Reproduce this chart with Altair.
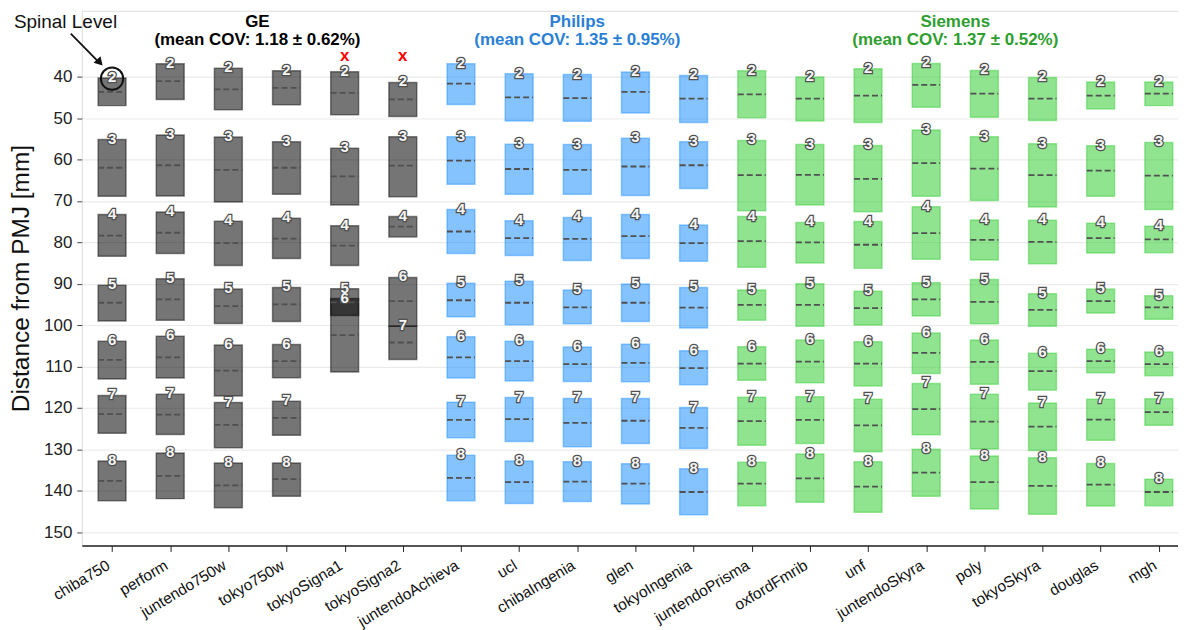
import altair as alt
import pandas as pd

sites = ["chiba750", "perform", "juntendo750w", "tokyo750w", "tokyoSigna1", "tokyoSigna2",
         "juntendoAchieva", "ucl", "chibaIngenia", "glen", "tokyoIngenia",
         "juntendoPrisma", "oxfordFmrib", "unf", "juntendoSkyra", "poly", "tokyoSkyra", "douglas", "mgh"]
vendors = ["GE"] * 6 + ["Philips"] * 5 + ["Siemens"] * 8
levels = [2, 3, 4, 5, 6, 7, 8]

# per-site, per-level: top (start), median, bottom (end) in mm from PMJ
level_top = [
    [40.3, 55.2, 73.3, 90.4, 103.9, 117.0, 132.8],
    [36.9, 54.1, 72.7, 88.8, 102.7, 116.7, 130.9],
    [38.0, 54.6, 74.9, 91.3, 104.8, 118.7, 133.3],
    [38.6, 55.7, 74.2, 90.9, 104.7, 118.4, 133.3],
    [38.8, 57.3, 76.0, 91.2, 93.6, None, None],
    [41.4, 54.5, 73.8, None, 88.5, 100.3, None],
    [36.9, 54.5, 72.1, 89.9, 102.8, 118.6, 131.4],
    [39.3, 56.3, 74.8, 89.4, 103.9, 117.5, 132.8],
    [39.5, 56.4, 74.0, 91.5, 105.3, 117.7, 133.0],
    [38.9, 54.9, 73.3, 90.1, 104.6, 117.7, 133.5],
    [39.7, 55.7, 75.8, 90.9, 106.2, 119.9, 134.7],
    [38.6, 55.4, 73.8, 91.5, 105.2, 117.4, 133.1],
    [40.1, 56.4, 75.2, 90.0, 103.6, 117.3, 131.1],
    [38.1, 56.6, 75.0, 91.8, 104.0, 117.9, 133.0],
    [36.8, 52.9, 71.4, 89.8, 101.9, 114.1, 130.0],
    [38.5, 54.5, 74.6, 89.0, 103.6, 116.7, 131.6],
    [40.2, 56.2, 74.7, 92.4, 106.8, 118.8, 132.0],
    [41.3, 56.7, 75.4, 91.3, 105.8, 117.9, 133.4],
    [41.3, 55.9, 76.1, 92.9, 106.5, 117.8, 137.2],
]
level_mid = [
    [43.7, 62.0, 78.4, 94.6, 108.4, 121.5, 137.6],
    [41.1, 61.4, 77.7, 93.8, 107.8, 121.6, 136.4],
    [43.1, 62.5, 80.2, 95.4, 111.0, 124.1, 138.7],
    [42.7, 62.0, 79.1, 95.0, 108.7, 122.4, 137.2],
    [43.9, 64.1, 80.8, 94.5, 102.4, None, None],
    [45.5, 61.5, 76.2, None, 94.2, 104.2, None],
    [41.7, 60.3, 77.4, 94.0, 107.8, 122.9, 136.9],
    [45.0, 62.3, 79.0, 94.6, 108.7, 122.7, 137.9],
    [45.2, 62.5, 79.2, 95.7, 109.4, 123.6, 137.8],
    [43.7, 61.7, 78.5, 94.6, 109.1, 123.1, 138.3],
    [45.3, 61.4, 80.2, 95.8, 110.4, 124.8, 140.3],
    [44.3, 63.8, 79.7, 95.1, 109.3, 123.2, 138.3],
    [45.3, 63.7, 80.0, 95.1, 108.8, 122.9, 137.0],
    [44.6, 64.7, 80.6, 95.9, 109.3, 124.2, 139.0],
    [42.0, 60.9, 77.8, 93.8, 106.7, 120.3, 135.6],
    [44.1, 62.2, 79.4, 94.4, 108.9, 123.3, 137.9],
    [45.3, 63.8, 79.9, 96.3, 111.1, 124.5, 138.8],
    [44.6, 62.7, 79.0, 94.2, 108.7, 122.8, 138.5],
    [44.1, 63.9, 79.3, 95.7, 109.4, 121.0, 140.3],
]
level_bot = [
    [47.0, 68.9, 83.4, 99.0, 113.0, 126.1, 142.4],
    [45.5, 68.8, 82.7, 98.8, 112.8, 126.4, 141.9],
    [48.0, 70.3, 85.6, 99.6, 117.1, 129.6, 144.1],
    [46.8, 68.4, 83.9, 99.1, 112.7, 126.6, 141.3],
    [49.2, 71.0, 85.6, 97.7, 111.3, None, None],
    [49.6, 69.0, 78.7, None, 100.3, 108.3, None],
    [46.7, 66.0, 82.7, 98.0, 112.8, 127.2, 142.4],
    [50.7, 68.4, 83.2, 99.9, 113.5, 128.1, 143.1],
    [50.8, 68.4, 84.4, 99.7, 113.6, 129.4, 142.6],
    [48.8, 68.7, 83.9, 99.1, 113.7, 128.6, 143.2],
    [51.1, 67.0, 84.6, 100.7, 114.4, 129.8, 145.8],
    [49.9, 72.4, 86.0, 98.8, 113.3, 129.0, 143.6],
    [50.7, 71.0, 85.0, 100.3, 113.9, 128.6, 142.8],
    [51.1, 72.6, 86.3, 100.0, 114.7, 130.6, 145.2],
    [47.4, 68.9, 84.1, 97.8, 111.7, 126.5, 141.3],
    [49.8, 69.9, 84.3, 99.7, 114.3, 129.9, 144.4],
    [50.6, 71.5, 85.2, 100.3, 115.7, 130.3, 145.7],
    [47.8, 68.9, 82.6, 97.1, 111.5, 127.8, 143.7],
    [47.0, 72.1, 82.5, 98.6, 112.2, 124.2, 143.6],
]

vendor_names = ["GE", "Philips", "Siemens"]
vendor_fill = ["#000000", "#1e90ff", "#32cd32"]
vendor_title_color = ["#000000", "#2a7fd5", "#2e9e2e"]
vendor_titles = [["GE", "(mean COV: 1.18 ± 0.62%)"],
                 ["Philips", "(mean COV: 1.35 ± 0.95%)"],
                 ["Siemens", "(mean COV: 1.37 ± 0.52%)"]]
vendor_center = [2.5, 8.0, 14.5]
title_y = 26.9

flagged_sites = [4, 5]
flag_y = 35.0

rows = []
for i, s in enumerate(sites):
    for j, lv in enumerate(levels):
        if level_top[i][j] is None:
            continue
        rows.append(dict(idx=i, site=s, vendor=vendors[i], level=str(lv),
                         top=level_top[i][j], mid=level_mid[i][j], bot=level_bot[i][j]))
df = pd.DataFrame(rows)

x_dom = [-0.52, 18.33]
y_dom = [24.1, 153.2]
names_expr = "[" + ",".join("'%s'" % s for s in sites) + "][datum.value]"

xscale = alt.Scale(domain=x_dom, nice=False, zero=False)
yscale = alt.Scale(domain=y_dom, reverse=True, nice=False, zero=False)
vscale = alt.Scale(domain=vendor_names, range=vendor_fill)

base = alt.Chart(df).transform_calculate(
    x0="datum.idx - 0.24", x1="datum.idx + 0.24"
)

boxes = base.mark_rect(fillOpacity=0.54, strokeOpacity=0.45, strokeWidth=1.5).encode(
    x=alt.X("x0:Q", scale=xscale,
            axis=alt.Axis(values=list(range(len(sites))), labelExpr=names_expr, title=None,
                          grid=False, labelAngle=329, labelAlign="right", labelBaseline="bottom",
                          labelFontSize=15.5, labelColor="#111", labelPadding=19,
                          tickColor="#222", tickSize=6, domainColor="#222", domainWidth=1.5,
                          labelOverlap=False, labelBound=False, labelFlush=False)),
    x2="x1:Q",
    y=alt.Y("top:Q", scale=yscale,
            axis=alt.Axis(values=list(range(40, 151, 10)), title="Distance from PMJ [mm]",
                          titleFontSize=24.5, titleFontWeight="normal", titleColor="#111",
                          titlePadding=10, labelFontSize=17, labelColor="#222", labelPadding=5,
                          tickColor="#444", tickSize=5, domain=False, grid=True,
                          gridColor="#ebebeb", gridWidth=1.2)),
    y2="bot:Q",
    fill=alt.Fill("vendor:N", scale=vscale, legend=None),
    stroke=alt.Stroke("vendor:N", scale=vscale, legend=None),
)

medians = base.mark_rule(color="#505050", strokeWidth=1.8, strokeDash=[6, 3]).encode(
    x=alt.X("x0:Q", scale=xscale), x2="x1:Q", y=alt.Y("mid:Q", scale=yscale)
)

lab_outline = base.mark_text(fontSize=15, fontWeight="bold", baseline="middle", dy=-1,
                             fill="white", stroke="#505050", strokeWidth=2.5,
                             font="Liberation Sans").encode(
    x=alt.X("idx:Q", scale=xscale), y=alt.Y("top:Q", scale=yscale), text="level:N"
)
lab_fill = base.mark_text(fontSize=15, fontWeight="bold", baseline="middle", dy=-1,
                          fill="#f4f4f4", font="Liberation Sans").encode(
    x=alt.X("idx:Q", scale=xscale), y=alt.Y("top:Q", scale=yscale), text="level:N"
)

flags = alt.Chart(pd.DataFrame({"idx": flagged_sites, "y": [flag_y] * len(flagged_sites)})).mark_text(
    text="x", color="#ff0000", fontSize=17, fontWeight="bold", baseline="middle"
).encode(x=alt.X("idx:Q", scale=xscale), y=alt.Y("y:Q", scale=yscale))

titles_df = pd.DataFrame({"x": vendor_center, "t": vendor_titles, "vendor": vendor_names,
                          "y": [title_y] * 3})
titles = alt.Chart(titles_df).mark_text(fontSize=17, fontWeight="bold", baseline="middle",
                                        lineHeight=18).encode(
    x=alt.X("x:Q", scale=xscale), y=alt.Y("y:Q", scale=yscale), text="t",
    color=alt.Color("vendor:N", scale=alt.Scale(domain=vendor_names, range=vendor_title_color),
                    legend=None)
)

# "Spinal Level" annotation
ann_text = alt.Chart(pd.DataFrame({"x": [-0.8], "y": [26.9], "t": ["Spinal Level"]})).mark_text(
    fontSize=19, color="#111", baseline="middle"
).encode(x=alt.X("x:Q", scale=xscale), y=alt.Y("y:Q", scale=yscale), text="t")
ann_line = alt.Chart(pd.DataFrame({"x": [-0.71], "y": [29.6], "x2": [-0.22], "y2": [36.6]})).mark_rule(
    color="#111", strokeWidth=1.8
).encode(x=alt.X("x:Q", scale=xscale), y=alt.Y("y:Q", scale=yscale), x2="x2:Q", y2="y2:Q")
ann_head = alt.Chart(pd.DataFrame({"x": [-0.21], "y": [36.6]})).mark_point(
    shape="triangle-up", angle=137, size=90, filled=True, color="#111", opacity=1
).encode(x=alt.X("x:Q", scale=xscale), y=alt.Y("y:Q", scale=yscale))
ann_circle = alt.Chart(pd.DataFrame({"x": [0.0], "y": [40.5]})).mark_point(
    shape="circle", size=500, filled=False, color="#111", strokeWidth=2, opacity=1
).encode(x=alt.X("x:Q", scale=xscale), y=alt.Y("y:Q", scale=yscale))

chart = alt.layer(boxes, medians, lab_outline, lab_fill, flags, titles,
                  ann_line, ann_head, ann_text, ann_circle).properties(
    width=1099, height=536,
    padding={"left": 0, "top": 2, "right": 0, "bottom": 0}
).configure_view(stroke=None).configure(font="Liberation Sans")

chart.save("out.html", embed_options={"renderer": "svg", "actions": False})
